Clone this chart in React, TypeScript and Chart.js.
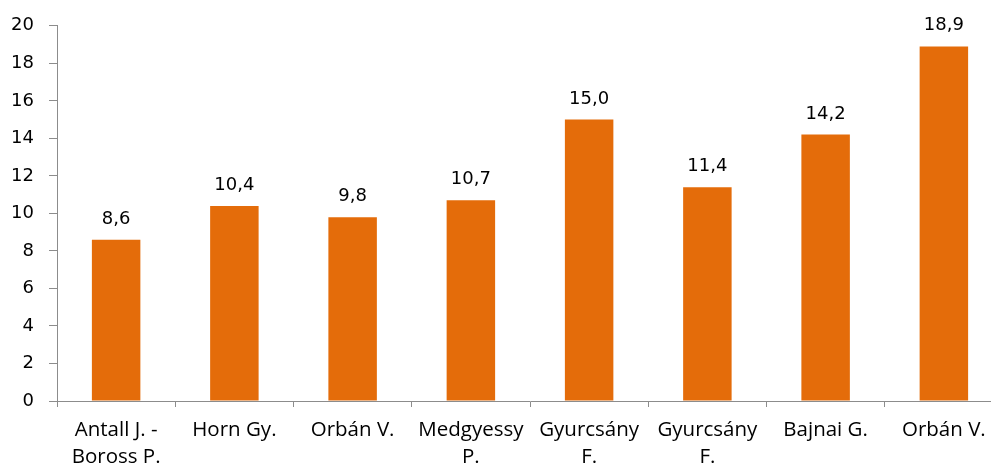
import React, { useEffect, useRef } from "react";
import { Chart, registerables } from "chart.js";

Chart.register(...registerables);

// Governments (multi-line labels) and their values
const categories: string[][] = [
  ["Antall J. -", "Boross P."],
  ["Horn Gy."],
  ["Orbán V."],
  ["Medgyessy", "P."],
  ["Gyurcsány", "F."],
  ["Gyurcsány", "F."],
  ["Bajnai G."],
  ["Orbán V."],
];
const values: number[] = [8.6, 10.4, 9.8, 10.7, 15.0, 11.4, 14.2, 18.9];

const BAR_COLOR = "#E46C0A";
const AXIS_COLOR = "#8C8C8C";
const NUM_FONT = "'DejaVu Sans', sans-serif";
const LABEL_FONT = "'Open Sans', 'DejaVu Sans', sans-serif";

const fmt = (v: number) => v.toFixed(1).replace(".", ",");

const valueLabels = {
  id: "valueLabels",
  afterDatasetsDraw(chart: any) {
    const ctx = chart.ctx;
    const meta = chart.getDatasetMeta(0);
    ctx.save();
    ctx.font = `18px ${NUM_FONT}`;
    ctx.fillStyle = "#000";
    ctx.textAlign = "center";
    ctx.textBaseline = "alphabetic";
    meta.data.forEach((bar: any, i: number) => {
      ctx.fillText(fmt(values[i]), bar.x, bar.y - 16);
    });
    ctx.restore();
  },
};

export default function App() {
  const ref = useRef<HTMLCanvasElement | null>(null);

  useEffect(() => {
    document.body.style.margin = "0";
    const chart = new Chart(ref.current!, {
      type: "bar",
      data: {
        labels: categories,
        datasets: [
          {
            data: values,
            backgroundColor: BAR_COLOR,
            barPercentage: 0.41,
            categoryPercentage: 1,
          },
        ],
      },
      options: {
        animation: false,
        responsive: false,
        layout: { padding: { top: 24, right: 0, left: 0, bottom: 0 } },
        plugins: { legend: { display: false }, tooltip: { enabled: false } },
        scales: {
          x: {
            grid: {
              drawOnChartArea: false,
              drawTicks: true,
              tickLength: 6,
              color: AXIS_COLOR,
              offset: true,
            },
            border: { color: AXIS_COLOR, width: 1 },
            ticks: {
              color: "#000",
              font: { family: LABEL_FONT, size: 20.5, lineHeight: 1.3 },
              padding: 10,
              maxRotation: 0,
              autoSkip: false,
            },
            afterFit: (s: any) => {
              s.height = 64;
            },
          },
          y: {
            min: 0,
            max: 20,
            grid: {
              drawOnChartArea: false,
              drawTicks: true,
              tickLength: 8,
              color: AXIS_COLOR,
            },
            border: { color: AXIS_COLOR, width: 1 },
            ticks: {
              stepSize: 2,
              color: "#000",
              font: { family: NUM_FONT, size: 18 },
              padding: 15,
            },
            afterFit: (s: any) => {
              s.width = 57;
            },
          },
        },
      },
      plugins: [valueLabels],
    });
    return () => chart.destroy();
  }, []);

  return (
    <div style={{ width: 991, height: 465, overflow: "hidden", background: "#fff" }}>
      <canvas ref={ref} width={1003} height={465} style={{ display: "block" }} />
    </div>
  );
}
